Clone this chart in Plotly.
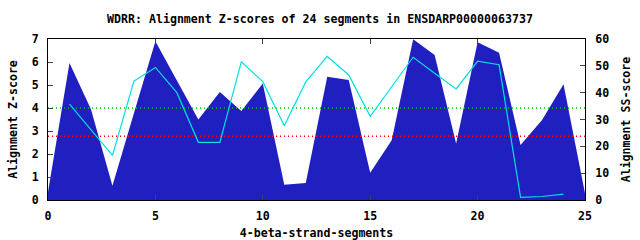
import plotly.graph_objects as go

# Data
segments = list(range(0, 26))
z_scores = [0.35, 5.96, 3.95, 0.62, 3.77, 6.9, 5.2, 3.5, 4.7, 3.87, 5.07, 0.66, 0.74,
            5.36, 5.22, 1.19, 2.6, 6.99, 6.3, 2.46, 6.86, 6.4, 2.39, 3.48, 5.03, 0.29]
ss_segments = list(range(1, 25))
ss_scores = [35.7, 26.2, 16.6, 44.3, 49.4, 40.0, 21.5, 21.5, 51.5, 44.1, 27.7, 44.0,
             53.5, 46.6, 31.2, 42.2, 53.2, 47.2, 41.4, 51.7, 50.4, 1.0, 1.3, 2.2]
threshold_x = [0, 25]
green_threshold = 4.0
red_threshold = 2.77
x_ticks = [0, 5, 10, 15, 20, 25]

title = "WDRR: Alignment Z-scores of 24 segments in ENSDARP00000063737"

FONT = dict(family="DejaVu Sans Mono", size=11.6, color="black", weight="bold")

fig = go.Figure()
fig.add_trace(go.Scatter(x=segments, y=z_scores, mode="lines", fill="tozeroy",
                         fillcolor="#2020C0", line=dict(width=0, color="#2020C0"),
                         showlegend=False, hoverinfo="skip"))
fig.add_trace(go.Scatter(x=threshold_x, y=[green_threshold] * 2, mode="lines",
                         line=dict(color="#00C000", width=1.5, dash="1px,3px"),
                         showlegend=False))
fig.add_trace(go.Scatter(x=threshold_x, y=[red_threshold] * 2, mode="lines",
                         line=dict(color="#FF0000", width=1.5, dash="1px,3px"),
                         showlegend=False))
fig.add_trace(go.Scatter(x=ss_segments, y=ss_scores, mode="lines", yaxis="y2",
                         line=dict(color="#00E0E0", width=1.2),
                         showlegend=False))

fig.update_layout(
    width=640, height=240,
    margin=dict(l=48, r=55, t=39, b=40),
    paper_bgcolor="white", plot_bgcolor="white",
    font=FONT,
    title=dict(text=title, x=0.5, xanchor="center", y=1 - 19 / 240, yanchor="middle",
               font=FONT),
    xaxis=dict(range=[0, 25], tickvals=x_ticks, ticks="inside", ticklen=5,
               showline=True, linecolor="black", linewidth=1, mirror="ticks",
               showgrid=False, zeroline=False, tickfont=FONT, ticklabelstandoff=5,
               automargin=False,
               title=dict(text="4-beta-strand-segments", font=FONT, standoff=12)),
    yaxis=dict(range=[0, 7], dtick=1, ticks="inside", ticklen=5,
               showline=True, linecolor="black", linewidth=1, mirror=True,
               showgrid=False, zeroline=False, tickfont=FONT, ticklabelstandoff=6,
               automargin=False,
               title=dict(text="Alignment Z-score", font=FONT, standoff=11)),
    yaxis2=dict(range=[0, 60], dtick=10, ticks="inside", ticklen=5,
                overlaying="y", side="right", showline=True, linecolor="black",
                linewidth=1, showgrid=False, zeroline=False, tickfont=FONT,
                ticklabelstandoff=7, automargin=False,
                title=dict(text="Alignment SS-score", font=FONT, standoff=13)),
)

fig.write_html("out.html")
